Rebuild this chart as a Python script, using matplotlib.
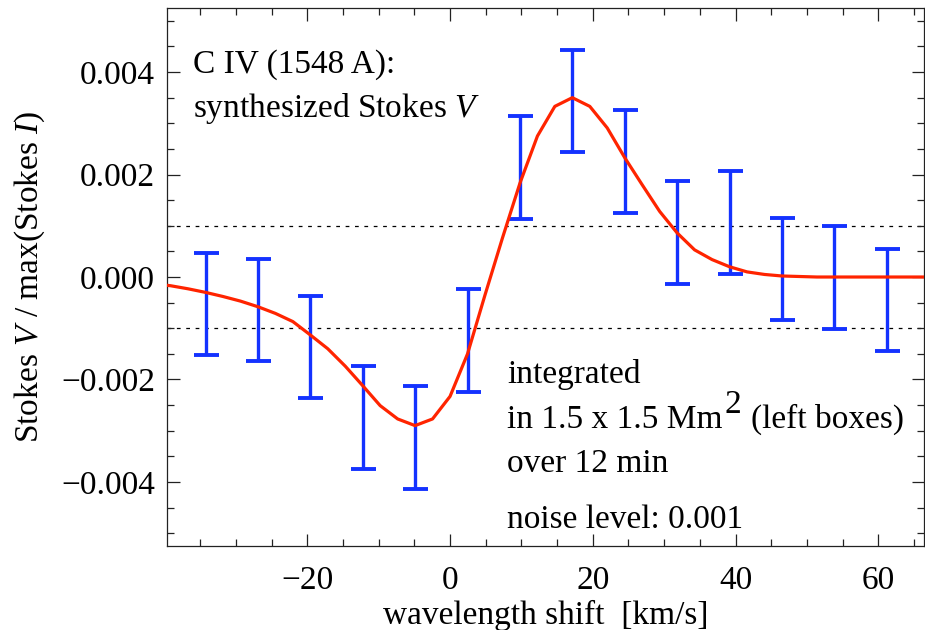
import matplotlib
matplotlib.use("Agg")
import matplotlib.pyplot as plt
from matplotlib.ticker import MultipleLocator, FuncFormatter

# Observed (binned) Stokes V with error bars
obs_shift = [-34.26, -26.92, -19.58, -12.24, -4.90, 2.45, 9.79, 17.13,
             24.47, 31.82, 39.16, 46.50, 53.84, 61.18]
obs_v = [-0.00053, -0.00064, -0.00137, -0.00274, -0.00313, -0.00124, 0.00214,
         0.00343, 0.00225, 0.00087, 0.00106, 0.00016, -0.00001, -0.00045]
noise = 0.001

# Synthesized Stokes V profile
syn_shift = [-41.61, -39.16, -36.71, -34.26, -31.82, -29.37, -26.92, -24.47,
             -22.02, -19.58, -17.13, -14.68, -12.24, -9.79, -7.34, -4.90,
             -2.45, 0.00, 2.45, 4.90, 7.34, 9.79, 12.24, 14.68, 17.13, 19.58,
             22.02, 24.47, 26.92, 29.37, 31.82, 34.26, 36.71, 39.16, 41.61,
             44.05, 46.50, 48.95, 51.40, 53.84, 56.29, 58.74, 61.18, 63.63,
             66.08, 68.53]
syn_v = [-0.00013, -0.00017, -0.00023, -0.00030, -0.00038, -0.00047, -0.00058,
         -0.00071, -0.00087, -0.00113, -0.00140, -0.00174, -0.00212, -0.00251,
         -0.00277, -0.00290, -0.00277, -0.00233, -0.00150, -0.00035, 0.00076,
         0.00183, 0.00275, 0.00333, 0.00350, 0.00333, 0.00291, 0.00233,
         0.00180, 0.00128, 0.00086, 0.00053, 0.00034, 0.00020, 0.00010,
         0.00005, 0.00002, 0.00001, 0.0, 0.0, 0.0, 0.0, 0.0, 0.0, 0.0, 0.0]

x_ticks = [-20, 0, 20, 40, 60]
y_ticks = [-0.004, -0.002, 0.000, 0.002, 0.004]

plt.rcParams['font.family'] = ['Liberation Serif', 'DejaVu Serif']
plt.rcParams['mathtext.fontset'] = 'custom'
plt.rcParams['mathtext.rm'] = 'Liberation Serif'
plt.rcParams['mathtext.it'] = 'Liberation Serif:italic'
plt.rcParams['axes.unicode_minus'] = True

FS = 24
BLUE = '#1432ff'
RED = '#ff2400'

fig = plt.figure(figsize=(9.25, 6.30), dpi=100)
ax = fig.add_axes([0.1805, 0.1333, 0.8184, 0.8540])

ax.axhline(noise, color='black', lw=0.9, ls=(0, (3.0, 4.5)), zorder=1)
ax.axhline(-noise, color='black', lw=0.9, ls=(0, (3.0, 4.5)), zorder=1)

ax.errorbar(obs_shift, obs_v, yerr=noise, fmt='none', ecolor=BLUE,
            elinewidth=2.4, capsize=9, capthick=2.8, zorder=2)
ax.plot(syn_shift, syn_v, color=RED, lw=2.3, zorder=3)

ax.set_xlim(-39.66, 66.4)
ax.set_ylim(-0.00525, 0.00525)

ax.set_xticks(x_ticks)
ax.set_yticks(y_ticks)
ax.xaxis.set_minor_locator(MultipleLocator(5))
ax.yaxis.set_minor_locator(MultipleLocator(0.0005))
ax.yaxis.set_major_formatter(FuncFormatter(lambda v, p: f"{v:.3f}".replace('-', '\u2212')))
ax.xaxis.set_major_formatter(FuncFormatter(lambda v, p: f"{v:.0f}".replace('-', '\u2212')))

ax.tick_params(which='both', direction='in', top=True, right=True,
               color='#222222', width=0.9)
ax.tick_params(which='major', length=9, labelsize=FS)
ax.tick_params(which='minor', length=5)
ax.tick_params(axis='y', which='major', pad=8.5)
ax.tick_params(axis='x', which='major', pad=14)
for sp in ax.spines.values():
    sp.set_linewidth(0.9)
    sp.set_color('#222222')

ax.set_xlabel('wavelength shift  [km/s]', fontsize=FS, labelpad=3)
ax.set_ylabel(r'Stokes $\mathit{V}$ / max(Stokes $\mathit{I}$)', fontsize=FS,
              labelpad=10)

ax.text(0.0343, 0.879, 'C IV (1548 A):', transform=ax.transAxes,
        fontsize=FS, va='baseline', ha='left')
ax.text(0.0343, 0.797, r'synthesized Stokes $\mathit{V}$', transform=ax.transAxes,
        fontsize=FS, va='baseline', ha='left')

ax.text(0.4496, 0.303, 'integrated', transform=ax.transAxes,
        fontsize=FS, va='baseline', ha='left')
t_in = ax.text(0.4496, 0.2193, 'in 1.5 x 1.5 Mm', transform=ax.transAxes,
               fontsize=FS, va='baseline', ha='left')
ax.text(0.4496, 0.1375, 'over 12 min', transform=ax.transAxes,
        fontsize=FS, va='baseline', ha='left')
ax.text(0.4496, 0.0335, 'noise level: 0.001', transform=ax.transAxes,
        fontsize=FS, va='baseline', ha='left')

# full-size raised exponent after "Mm", then the rest of the line
renderer = fig.canvas.get_renderer()
bb = t_in.get_window_extent(renderer)
_, y_base = ax.transAxes.transform((0, 0.2193))
sup = ax.text(bb.x1 + 1.5, y_base + 15.5, '2', transform=None,
              fontsize=FS, va='baseline', ha='left')
bb2 = sup.get_window_extent(renderer)
ax.text(bb2.x1 + 10, y_base, '(left boxes)', transform=None,
        fontsize=FS, va='baseline', ha='left')

fig.savefig('out.png', dpi=100)
